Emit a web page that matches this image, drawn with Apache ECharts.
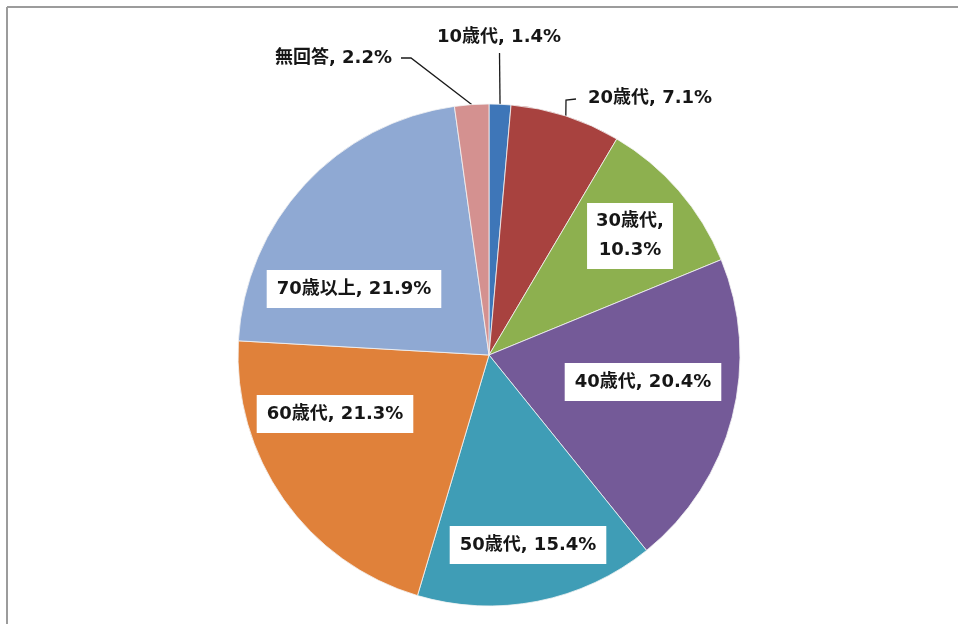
<!DOCTYPE html>
<html>
<head>
<meta charset="utf-8">
<script src="https://cdn.jsdelivr.net/npm/echarts@6/dist/echarts.min.js"></script>
<style>
  html, body { margin: 0; padding: 0; background: #fff; }
  #chart { width: 958px; height: 624px; }
</style>
</head>
<body>
<div id="chart"></div>
<script>
// Age groups of respondents (share of total, %)
const categories = ['10歳代', '20歳代', '30歳代', '40歳代', '50歳代', '60歳代', '70歳以上', '無回答'];
const shares = [1.4, 7.1, 10.3, 20.4, 15.4, 21.3, 21.9, 2.2];
const sliceColors = ['#3E76B8', '#A8423F', '#8DB04F', '#745A98', '#3F9DB6', '#E0813A', '#8FA9D3', '#D49190'];

// Pie geometry
const CX = 489, CY = 355, R = 251;

// Where each label sits, as an offset from the pie centre.
// Outside labels also carry the bend points of their leader line.
const labelSpots = {
  '10歳代':  { dx: 10, dy: -318, align: 'center', outside: true, line: [[10.5, -302], [10.5, -302]] },
  '20歳代':  { dx: 99, dy: -257, align: 'left', outside: true, line: [[77, -255], [87, -256]] },
  '30歳代':  { dx: 141, dy: -119, align: 'center' },
  '40歳代':  { dx: 154, dy: 27, align: 'center' },
  '50歳代':  { dx: 39, dy: 190, align: 'center' },
  '60歳代':  { dx: -154, dy: 59, align: 'center' },
  '70歳以上': { dx: -135, dy: -66, align: 'center' },
  '無回答':  { dx: -97, dy: -297, align: 'right', outside: true, line: [[-78, -297], [-88, -297]] }
};
const wrapped = ['30歳代'];

const FONT = "'DejaVu Sans', 'Noto Sans CJK JP', sans-serif";

const chart = echarts.init(document.getElementById('chart'));

const data = categories.map(function (name, i) {
  const spot = labelSpots[name];
  const twoLines = wrapped.indexOf(name) >= 0;
  return {
    name: name,
    value: shares[i],
    itemStyle: { color: sliceColors[i] },
    label: spot.outside
      ? { position: 'outside', backgroundColor: 'transparent', padding: 0 }
      : {
          position: 'inside',
          backgroundColor: '#ffffff',
          lineHeight: twoLines ? 29 : 20,
          padding: twoLines ? [4, 9] : [9, 10]
        },
    labelLine: { show: !!spot.outside }
  };
});

chart.setOption({
  animation: false,
  backgroundColor: '#ffffff',
  graphic: [
    { type: 'line', shape: { x1: 7, y1: 7, x2: 958, y2: 7 }, style: { stroke: '#9c9c9c', lineWidth: 2 } },
    { type: 'line', shape: { x1: 7, y1: 7, x2: 7, y2: 624 }, style: { stroke: '#9c9c9c', lineWidth: 2 } }
  ],
  series: [{
    type: 'pie',
    center: [CX, CY],
    radius: R,
    startAngle: 90,
    clockwise: true,
    avoidLabelOverlap: false,
    data: data,
    itemStyle: { borderColor: '#f4f4f4', borderWidth: 0.8 },
    label: {
      show: true,
      color: '#161616',
      fontFamily: FONT,
      fontWeight: 'bold',
      fontSize: 18,
      lineHeight: 20,
      align: 'center',
      formatter: function (p) {
        const sep = wrapped.indexOf(p.name) >= 0 ? ',\n' : ', ';
        return p.name + sep + p.value.toFixed(1) + '%';
      }
    },
    labelLine: {
      show: true,
      length: 20,
      length2: 10,
      lineStyle: { color: '#1a1a1a', width: 1.3 }
    },
    labelLayout: function (params) {
      const spot = labelSpots[categories[params.dataIndex]];
      const out = {
        x: CX + spot.dx,
        y: CY + spot.dy,
        align: spot.align,
        verticalAlign: 'middle'
      };
      if (spot.outside && params.labelLinePoints) {
        const p0 = params.labelLinePoints[0];
        out.labelLinePoints = [
          [p0[0], p0[1]],
          [CX + spot.line[0][0], CY + spot.line[0][1]],
          [CX + spot.line[1][0], CY + spot.line[1][1]]
        ];
      }
      return out;
    }
  }]
});
</script>
</body>
</html>
